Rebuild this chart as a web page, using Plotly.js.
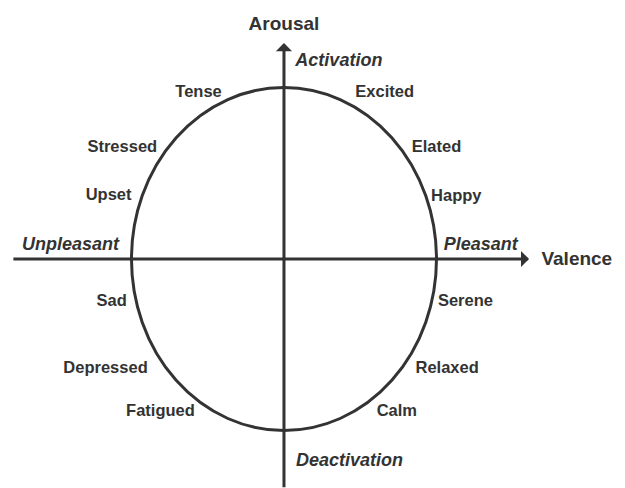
<!DOCTYPE html>
<html>
<head>
<meta charset="utf-8">
<script src="https://cdn.plot.ly/plotly-3.0.1.min.js"></script>
<style>html,body{margin:0;padding:0;background:#fff;}#chart{width:625px;height:488px;}</style>
</head>
<body>
<div id="chart"></div>
<script>
// Emotion words placed on the valence (x) / arousal (y) plane, unit circle = circumplex
const emotions = ["Tense","Excited","Stressed","Elated","Upset","Happy","Sad","Serene","Depressed","Relaxed","Fatigued","Calm"];
const valence  = [-0.56, 0.66, -1.06, 1.00, -1.15, 1.13, -1.13, 1.19, -1.17, 1.07, -0.81, 0.74];
const arousal  = [0.97, 0.97, 0.65, 0.65, 0.37, 0.36, -0.25, -0.25, -0.64, -0.64, -0.89, -0.89];

// Pole labels (italic)
const poles  = ["Activation","Deactivation","Unpleasant","Pleasant"];
const poleX  = [0.36, 0.43, -1.40, 1.29];
const poleY  = [1.15, -1.18, 0.08, 0.08];

// Axis names
const axisNames = ["Arousal","Valence"];
const axisNameX = [0.0, 1.92];
const axisNameY = [1.36, -0.005];

// Axis extents
const valenceAxis = {from: -1.784, to: 1.607};
const arousalAxis = {from: -1.34, to: 1.259};

const ink = "#333333";
const font = "Liberation Sans, Arial, sans-serif";

const traces = [
  {
    type: "scatter", mode: "text",
    x: valence, y: arousal, text: emotions,
    textposition: "middle center",
    textfont: {family: font, size: 16.5, color: ink, weight: "bold"},
    hoverinfo: "skip", showlegend: false
  },
  {
    type: "scatter", mode: "text",
    x: poleX, y: poleY, text: poles,
    textposition: "middle center",
    textfont: {family: font, size: 18, color: ink, weight: "bold", style: "italic"},
    hoverinfo: "skip", showlegend: false
  },
  {
    type: "scatter", mode: "text",
    x: axisNameX, y: axisNameY, text: axisNames,
    textposition: "middle center",
    textfont: {family: font, size: 19, color: ink, weight: "bold"},
    hoverinfo: "skip", showlegend: false
  }
];

const layout = {
  width: 625, height: 488,
  margin: {l: 0, r: 0, t: 0, b: 0},
  paper_bgcolor: "#ffffff", plot_bgcolor: "#ffffff",
  xaxis: {range: [-1.862, 2.236], visible: false, fixedrange: true},
  yaxis: {range: [-1.335, 1.510], visible: false, fixedrange: true},
  showlegend: false,
  shapes: [
    {type: "circle", xref: "x", yref: "y", x0: -1, x1: 1, y0: -1, y1: 1,
     line: {color: ink, width: 3}, layer: "below"}
  ],
  annotations: [
    {x: valenceAxis.to, y: 0, ax: valenceAxis.from, ay: 0, xref: "x", yref: "y", axref: "x", ayref: "y",
     text: "", showarrow: true, arrowhead: 1, arrowsize: 0.9, arrowwidth: 3, arrowcolor: ink},
    {x: 0, y: arousalAxis.to, ax: 0, ay: arousalAxis.from, xref: "x", yref: "y", axref: "x", ayref: "y",
     text: "", showarrow: true, arrowhead: 1, arrowsize: 0.9, arrowwidth: 3, arrowcolor: ink}
  ]
};

Plotly.newPlot("chart", traces, layout, {staticPlot: true, displayModeBar: false});
</script>
</body>
</html>
